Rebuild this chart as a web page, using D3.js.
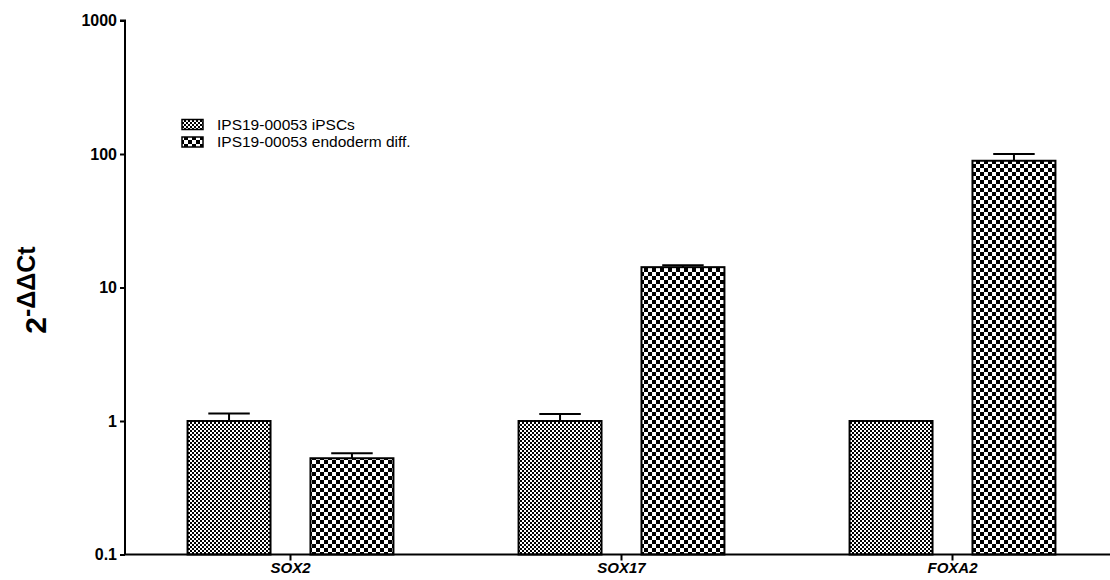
<!DOCTYPE html>
<html>
<head>
<meta charset="utf-8">
<script src="https://cdn.jsdelivr.net/npm/d3@7"></script>
<style>
  html, body { margin: 0; padding: 0; background: #fff; }
  svg { display: block; font-family: Arial, "Liberation Sans", sans-serif; }
</style>
</head>
<body>
<svg id="chart" width="1110" height="580"></svg>
<script>
// Relative expression (2^-ΔΔCt) per gene
const genes = ["SOX2", "SOX17", "FOXA2"];
const seriesNames = ["IPS19-00053 iPSCs", "IPS19-00053 endoderm diff."];
const ipscMean = [1.0, 1.0, 1.0];
const ipscUpper = [1.14, 1.13, 1.0];
const endoMean = [0.526, 14.2, 89.0];
const endoUpper = [0.573, 14.7, 100.0];
const yTicks = [0.1, 1, 10, 100, 1000];

const svg = d3.select("#chart");

// fill patterns: fine checker for iPSCs, coarse checker for endoderm
const defs = svg.append("defs");
function checker(id, cell) {
  const p = defs.append("pattern")
    .attr("id", id).attr("patternUnits", "userSpaceOnUse")
    .attr("width", cell * 2).attr("height", cell * 2);
  p.append("rect").attr("width", cell * 2).attr("height", cell * 2).attr("fill", "#fff");
  p.append("rect").attr("x", 0).attr("y", 0).attr("width", cell).attr("height", cell).attr("fill", "#000");
  p.append("rect").attr("x", cell).attr("y", cell).attr("width", cell).attr("height", cell).attr("fill", "#000");
}
checker("fine", 2);
checker("coarse", 4);
const fills = ["url(#fine)", "url(#coarse)"];

const x0 = d3.scaleBand().domain(genes).range([125, 1118])
  .paddingInner(0.378).paddingOuter(0.189);
const x1 = d3.scaleBand().domain([0, 1]).range([0, x0.bandwidth()])
  .paddingInner(0.325).paddingOuter(0);
const y = d3.scaleLog().domain([0.1, 1000]).range([554.5, 20.5]);

const series = [
  { mean: ipscMean, upper: ipscUpper },
  { mean: endoMean, upper: endoUpper }
];

const rows = [];
series.forEach((s, si) => {
  genes.forEach((g, gi) => {
    rows.push({ gene: g, s: si, mean: s.mean[gi], upper: s.upper[gi] });
  });
});

// error bars (drawn first, bar outline covers the stem base)
const err = svg.append("g").attr("stroke", "#000").attr("stroke-width", 2);
rows.filter(d => d.upper > d.mean).forEach(d => {
  const cx = x0(d.gene) + x1(d.s) + x1.bandwidth() / 2;
  const hw = x1.bandwidth() / 4;
  err.append("line").attr("x1", cx).attr("x2", cx).attr("y1", y(d.mean)).attr("y2", y(d.upper));
  err.append("line").attr("x1", cx - hw).attr("x2", cx + hw).attr("y1", y(d.upper)).attr("y2", y(d.upper));
});

// bars
svg.append("g").selectAll("rect").data(rows).join("rect")
  .attr("x", d => x0(d.gene) + x1(d.s))
  .attr("width", x1.bandwidth())
  .attr("y", d => y(d.mean))
  .attr("height", d => y(0.1) - y(d.mean))
  .attr("fill", d => fills[d.s])
  .attr("stroke", "#000")
  .attr("stroke-width", 2);

// y axis
const yAxis = svg.append("g").attr("transform", "translate(125,0)")
  .call(d3.axisLeft(y).tickValues(yTicks).tickFormat(d => String(d)).tickSize(5).tickPadding(3));
yAxis.select(".domain").attr("stroke-width", 2).attr("d", `M-5,${y(1000)}H0V${y(0.1)}`);
yAxis.selectAll(".tick line").attr("stroke-width", 2);
yAxis.selectAll(".tick text").attr("font-size", 16).attr("font-weight", "bold").attr("fill", "#000")
  .attr("font-family", "Arial, 'Liberation Sans', sans-serif");

// x axis
const xAxis = svg.append("g").attr("transform", `translate(0,${y(0.1)})`)
  .call(d3.axisBottom(x0).tickSize(6).tickSizeOuter(0).tickPadding(2));
xAxis.select(".domain").attr("stroke-width", 2).attr("d", `M125,0H1110`);
xAxis.selectAll(".tick line").attr("stroke-width", 2);
xAxis.selectAll(".tick text").attr("font-size", 15).attr("font-weight", "bold")
  .attr("font-style", "italic").attr("fill", "#000")
  .attr("font-family", "Arial, 'Liberation Sans', sans-serif");

// y axis title: 2^-ΔΔCt
const title = svg.append("text")
  .attr("transform", "translate(46,290) rotate(-90)")
  .attr("text-anchor", "middle")
  .attr("font-weight", "bold")
  .attr("fill", "#000");
title.append("tspan").attr("font-size", 30).text("2");
title.append("tspan").attr("font-size", 25).attr("dy", -11).text("-ΔΔCt");

// legend
const legend = svg.append("g");
seriesNames.forEach((name, i) => {
  const ly = 119.5 + i * 17.5;
  legend.append("rect").attr("x", 182).attr("y", ly).attr("width", 21).attr("height", 10)
    .attr("fill", fills[i]).attr("stroke", "#000").attr("stroke-width", 1.5);
  legend.append("text").attr("x", 217).attr("y", ly + 5).attr("dy", "0.35em")
    .attr("font-size", 15.5).attr("fill", "#000").text(name);
});
</script>
</body>
</html>
